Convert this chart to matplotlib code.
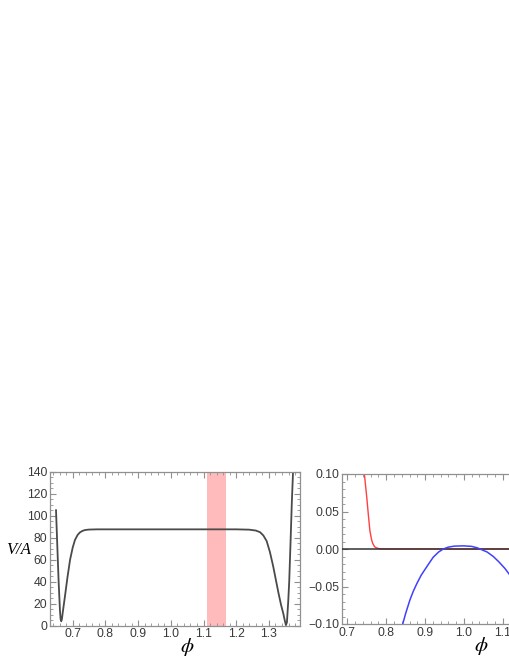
import matplotlib.pyplot as plt
from matplotlib.ticker import MultipleLocator

plt.rcParams['mathtext.fontset'] = 'stix'

# left panel: V/A against phi
phi_v = [0.649, 0.653, 0.657, 0.661, 0.663, 0.665, 0.667, 0.670, 0.676, 0.684,
         0.692, 0.700, 0.707, 0.715, 0.722, 0.730, 0.738, 0.750, 0.775, 0.800,
         1.000, 1.200, 1.240, 1.260, 1.273, 1.283, 1.293, 1.303, 1.313, 1.321,
         1.329, 1.337, 1.344, 1.349, 1.352, 1.355, 1.359, 1.362, 1.366, 1.370, 1.374]
v_over_a = [105, 72, 40, 14, 6, 4, 6, 13, 26, 44,
            60, 71, 78, 82.5, 84.8, 86.2, 87.0, 87.4, 87.6, 87.6,
            87.6, 87.6, 87.3, 86.5, 85.0, 82.0, 77.0, 67.0, 54.0, 42.0,
            30.0, 19.0, 11.0, 4.0, 0.5, 3.0, 22.0, 40.0, 75.0, 112.0, 142.0]
band = (1.11, 1.17)

# right panel
phi_red = [0.7437, 0.747, 0.750, 0.754, 0.758, 0.762, 0.765, 0.770, 0.776, 0.785, 0.800, 1.320]
red = [0.10, 0.083, 0.068, 0.045, 0.024, 0.013, 0.0076, 0.003, 0.0012, 0.0002, 0.0, 0.0]
phi_blue = [0.8425, 0.850, 0.861, 0.870, 0.879, 0.890, 0.904, 0.921, 0.935, 0.947,
            0.960, 0.975, 0.9986, 1.020, 1.035, 1.0416, 1.060, 1.076, 1.090, 1.106, 1.119, 1.130]
blue = [-0.10, -0.086, -0.068, -0.056, -0.046, -0.035, -0.024, -0.011, -0.004, 0.0,
        0.0025, 0.0038, 0.0042, 0.0035, 0.0015, 0.0, -0.004, -0.010, -0.017, -0.026, -0.035, -0.045]

fig = plt.figure(figsize=(5.1, 6.6), dpi=100)
ax1 = fig.add_axes([50/510, 34.3/660, 250/510, 154/660])
ax2 = fig.add_axes([342/510, 36/660, 246/510, 150/660])

def style(ax):
    for s in ax.spines.values():
        s.set_color('#909090')
        s.set_linewidth(0.9)
    ax.tick_params(which='both', direction='in', top=True, right=True,
                   colors='#909090', labelcolor='#3a3a3a', labelsize=8.8, pad=2)
    ax.tick_params(which='major', length=4, width=0.8)
    ax.tick_params(which='minor', length=2, width=0.6)
    for lab in ax.get_xticklabels() + ax.get_yticklabels():
        lab.set_family('Liberation Sans')

ax1.axvspan(band[0], band[1], color='#ffbbbb', lw=0)
ax1.plot(phi_v, v_over_a, color='#4a4a4a', lw=1.3)
ax1.set_xlim(0.6306, 1.395)
ax1.set_ylim(0, 140)
ax1.xaxis.set_major_locator(MultipleLocator(0.1))
ax1.xaxis.set_minor_locator(MultipleLocator(0.02))
ax1.yaxis.set_major_locator(MultipleLocator(20))
ax1.yaxis.set_minor_locator(MultipleLocator(5))
ax1.set_xticks([0.7, 0.8, 0.9, 1.0, 1.1, 1.2, 1.3])
ax1.set_xticklabels(['0.7', '0.8', '0.9', '1.0', '1.1', '1.2', '1.3'])
style(ax1)
fig.text(187/510, 1 - 647/660, r'$\phi$', fontsize=15, ha='center', va='center')
fig.text(19/510, 1 - 550/660, 'V/A', family='Liberation Serif', style='italic',
         fontsize=12, ha='center', va='center')

ax2.plot(phi_red, red, color='#ff4040', lw=1.0, zorder=2)
ax2.axhline(0, color='#333333', lw=1.1, zorder=3)
ax2.plot(phi_blue, blue, color='#4040ff', lw=1.1, zorder=4)
ax2.set_xlim(0.686, 1.32)
ax2.set_ylim(-0.1, 0.1)
ax2.xaxis.set_major_locator(MultipleLocator(0.1))
ax2.xaxis.set_minor_locator(MultipleLocator(0.02))
ax2.yaxis.set_major_locator(MultipleLocator(0.05))
ax2.yaxis.set_minor_locator(MultipleLocator(0.01))
ax2.set_yticks([-0.1, -0.05, 0.0, 0.05, 0.1])
ax2.set_yticklabels(['\u22120.10', '\u22120.05', '0.00', '0.05', '0.10'])
ax2.set_xticks([0.7, 0.8, 0.9, 1.0, 1.1, 1.2, 1.3])
ax2.set_xticklabels(['0.7', '0.8', '0.9', '1.0', '1.1', '1.2', '1.3'])
style(ax2)
fig.text(481.7/510, 1 - 646/660, r'$\phi$', fontsize=15, ha='center', va='center')

fig.savefig('out.png', dpi=100)
